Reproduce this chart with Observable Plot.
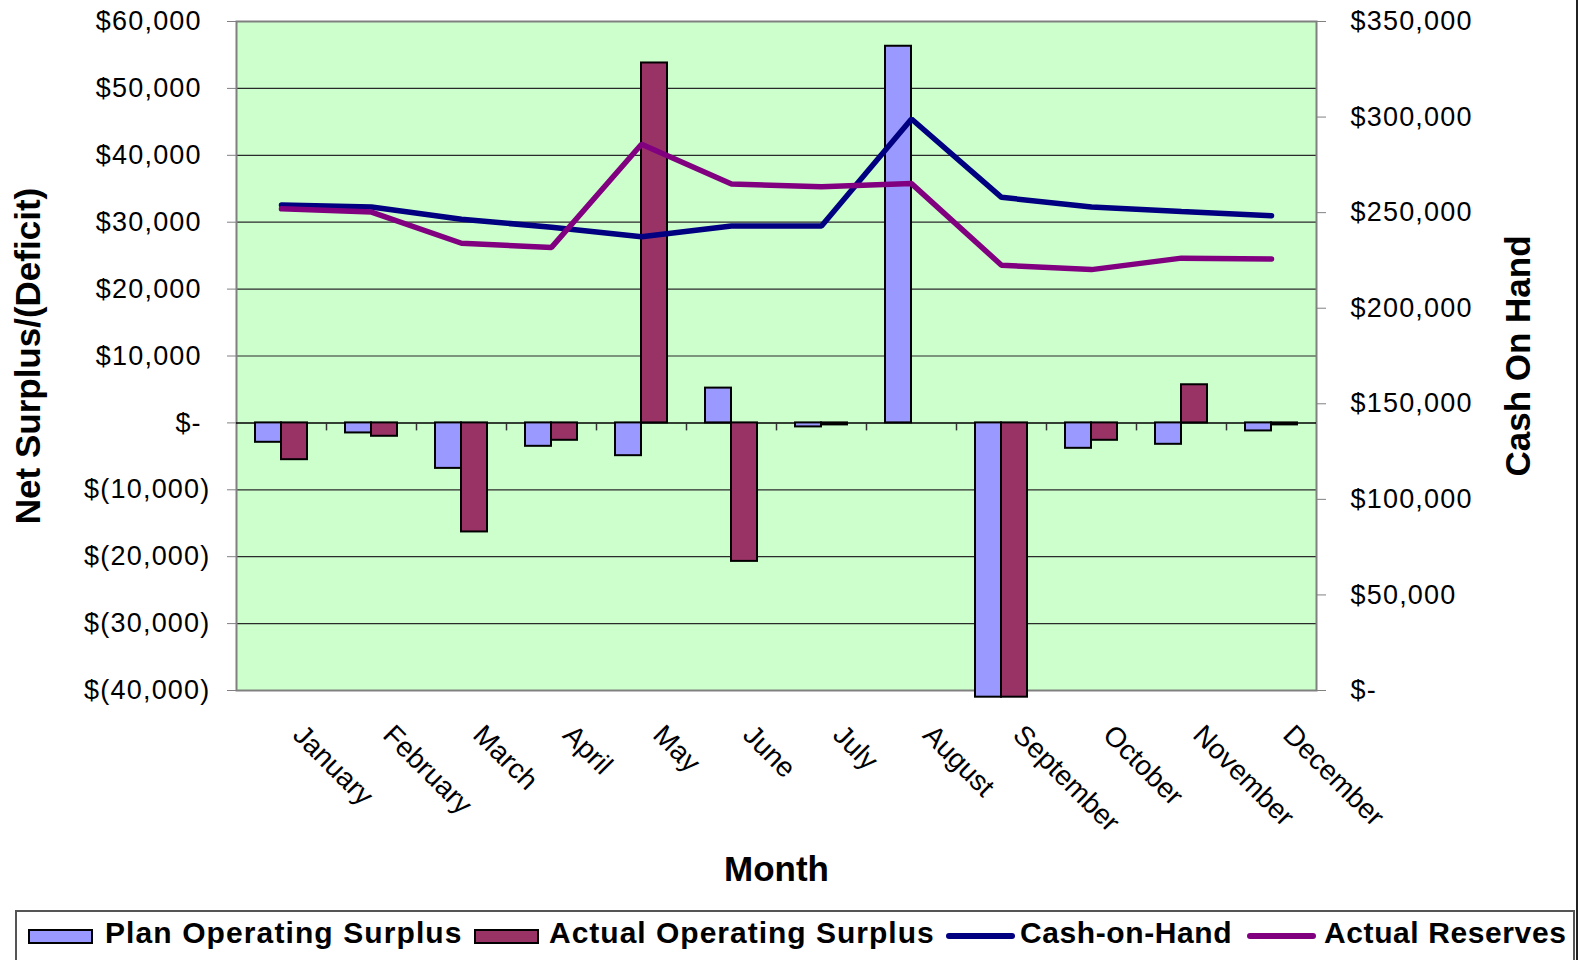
<!DOCTYPE html>
<html>
<head>
<meta charset="utf-8">
<script src="https://cdn.jsdelivr.net/npm/d3@7"></script>
<script src="https://cdn.jsdelivr.net/npm/@observablehq/plot@0.6"></script>
<style>
  html, body { margin: 0; padding: 0; background: #fff; overflow: hidden; }
  #wrap { position: relative; width: 1581px; height: 960px; font-family: 'Liberation Sans', Arial, sans-serif; }
  #chart { position: absolute; left: 0; top: 0; }
  #chart g[aria-label*="axis"] text { letter-spacing: 1.2px; }
  #chart g[aria-label*="month-labels"] text { letter-spacing: 1px; }
  #chart g[aria-label*="title-month"] text { letter-spacing: 2px; }
  .lg { position: absolute; }
  .lgtext { position: absolute; font-weight: bold; font-size: 30px; line-height: 30px; letter-spacing: 0.6px; white-space: nowrap; color: #000; }
</style>
</head>
<body>
<div id="wrap">
  <div id="chart"></div>
  <div class="lg" style="left:15px;top:910px;width:1560px;height:80px;border:2px solid #555;box-sizing:border-box;"></div>
  <div class="lg" style="left:1576px;top:0;width:2px;height:960px;background:#222;"></div>
  <div class="lg" style="left:28px;top:929px;width:65px;height:15px;background:#9999FF;border:2px solid #000;box-sizing:border-box;"></div>
  <div class="lgtext" style="left:105px;top:918px;letter-spacing:1.1px;">Plan Operating Surplus</div>
  <div class="lg" style="left:474px;top:929px;width:65px;height:15px;background:#993366;border:2px solid #000;box-sizing:border-box;"></div>
  <div class="lgtext" style="left:549px;top:918px;letter-spacing:1px;">Actual Operating Surplus</div>
  <div class="lg" style="left:946px;top:933px;width:69px;height:6px;background:#000080;border-radius:3px;"></div>
  <div class="lgtext" style="left:1020px;top:918px;">Cash-on-Hand</div>
  <div class="lg" style="left:1247px;top:933px;width:69px;height:6px;background:#800080;border-radius:3px;"></div>
  <div class="lgtext" style="left:1324px;top:918px;">Actual Reserves</div>
</div>
<script>
// ---- data ----
const months = ["January", "February", "March", "April", "May", "June", "July", "August", "September", "October", "November", "December"];
const planSurplus   = [-2900, -1500, -6800, -3500, -4900, 5200, -600, 56300, -41000, -3800, -3200, -1200];
const actualSurplus = [-5500, -2000, -16300, -2600, 53800, -20700, -300, 0, -41000, -2600, 5700, -300];
const cashOnHand     = [254000, 253000, 246500, 242400, 237400, 243000, 243000, 299000, 258000, 253000, 250600, 248400];
const actualReserves = [252000, 250300, 234000, 231800, 285800, 265000, 263500, 265200, 222500, 220200, 226200, 225700];
const leftTicks  = [-40000, -30000, -20000, -10000, 0, 10000, 20000, 30000, 40000, 50000, 60000];
const rightTicks = [0, 50000, 100000, 150000, 200000, 250000, 300000, 350000];

const leftDomain = [-40000, 60000];
const rightDomain = [0, 350000];
const ratio = (leftDomain[1] - leftDomain[0]) / (rightDomain[1] - rightDomain[0]);
const toLeft = v => leftDomain[0] + (v - rightDomain[0]) * ratio;
const fromLeft = v => Math.round((v - leftDomain[0]) / ratio + rightDomain[0]);

const rows = months.map((m, i) => ({
  month: m, plan: planSurplus[i], actual: actualSurplus[i],
  cash: cashOnHand[i], reserves: actualReserves[i]
}));

const num = d3.format(",");
const fmtLeft = v => v === 0 ? "$-\u00a0" : v > 0 ? "$" + num(v) + "\u00a0" : "$(" + num(-v) + ")";
const fmtRight = v => v === 0 ? "$-" : "$" + num(v);

const W = 1581, H = 905;
const mL = 236, mR = W - 1316, mT = 21, mB = H - 690;
const step = (W - mL - mR) / months.length;

const plot = Plot.plot({
  width: W, height: H,
  marginLeft: mL, marginRight: mR, marginTop: mT, marginBottom: mB,
  x: {domain: months, padding: 0, axis: null},
  y: {domain: leftDomain, label: null, axis: null},
  style: {fontFamily: "'Liberation Sans', Arial, sans-serif", fontSize: "27px", color: "black", background: "white", overflow: "visible"},
  marks: [
    Plot.frame({fill: "#CCFFCC", stroke: null}),
    Plot.gridY({ticks: leftTicks.filter(d => d !== 0 && d !== leftDomain[0] && d !== leftDomain[1]), stroke: "#2a2a2a", strokeOpacity: 1, strokeWidth: 1.2}),
    Plot.frame({stroke: "#808080", strokeWidth: 2}),
    Plot.ruleY([0], {stroke: "#000", strokeWidth: 1.5}),
    Plot.ruleX(months.slice(1), {x: d => d, y1: 0, y2: 0, insetTop: 0, insetBottom: -8, dx: -step / 2, stroke: "#333", strokeWidth: 1.5}),
    Plot.barY(rows, {x: "month", y: "plan", fill: "#9999FF", stroke: "#000", strokeWidth: 2, insetLeft: 19, insetRight: step / 2}),
    Plot.barY(rows, {x: "month", y: "actual", fill: "#993366", stroke: "#000", strokeWidth: 2, insetLeft: step / 2, insetRight: 19}),
    Plot.line(rows, {x: "month", y: d => toLeft(d.cash), stroke: "#000080", strokeWidth: 5.5, strokeLinecap: "round", strokeLinejoin: "miter"}),
    Plot.line(rows, {x: "month", y: d => toLeft(d.reserves), stroke: "#800080", strokeWidth: 5.5, strokeLinecap: "round", strokeLinejoin: "miter"}),
    Plot.axisY({ticks: leftTicks, anchor: "left", tickSize: 9, tickPadding: 17, tickFormat: fmtLeft, stroke: "#808080", label: null, ariaLabel: "left-axis"}),
    Plot.axisY({ticks: rightTicks.map(toLeft), anchor: "right", tickSize: 9, tickPadding: 25, tickFormat: d => fmtRight(fromLeft(d)), stroke: "#808080", label: null, ariaLabel: "right-axis"}),
    Plot.text(months, {x: d => d, text: d => d, frameAnchor: "bottom", rotate: 45, textAnchor: "start", lineAnchor: "top", dx: 24, dy: 32, fontSize: 28, ariaLabel: "month-labels"}),
    Plot.text(["Net Surplus/(Deficit)"], {text: d => d, frameAnchor: "left", rotate: -90, textAnchor: "middle", lineAnchor: "middle", dx: -207.6, fontSize: 35, fontWeight: "bold", ariaLabel: "title"}),
    Plot.text(["Cash On Hand"], {text: d => d, frameAnchor: "right", rotate: -90, textAnchor: "middle", lineAnchor: "middle", dx: 201.9, fontSize: 35, fontWeight: "bold", ariaLabel: "title"}),
    Plot.text(["Month"], {text: d => d, frameAnchor: "bottom", textAnchor: "middle", lineAnchor: "middle", dy: 179.5, fontSize: 35, fontWeight: "bold", ariaLabel: "title-month"})
  ]
});

document.getElementById("chart").appendChild(plot);
</script>
</body>
</html>
